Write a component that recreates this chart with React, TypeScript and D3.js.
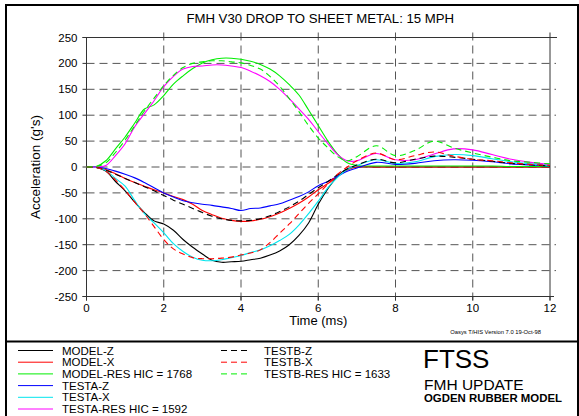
import React from 'react';
import * as d3 from 'd3';

// time base (ms) shared by all series
const times = [0, 0.25, 0.5, 0.75, 1, 1.25, 1.5, 1.75, 2, 2.25, 2.5, 2.75, 3, 3.25, 3.5, 3.75, 4, 4.25, 4.5, 4.75, 5, 5.25, 5.5, 5.75, 6, 6.25, 6.5, 6.75, 7, 7.5, 8, 8.5, 9, 9.5, 10, 10.5, 11, 11.5, 12];

const modelZ = [0, -1, -8, -28, -46, -68, -88, -104, -110, -122, -140, -155, -168, -180, -184, -183, -182, -179, -176, -170, -162, -150, -132, -108, -72, -42, -18, -4, 0, 0, 0, 0, 0, 0, 0, 0, 0, 0, 0];
const modelX = [0, -1, -5, -13, -22, -30, -37, -44, -50, -57, -63, -72, -84, -92, -99, -103, -105, -104, -101, -96, -89, -80, -70, -58, -44, -32, -18, -6, 0, 0, 0, 0, 0, 0, 0, 0, 0, 0, 0];
const modelRes = [0, 1, 12, 35, 58, 85, 112, 120, 138, 160, 176, 190, 201, 207, 210, 210, 208, 204, 198, 189, 176, 159, 139, 110, 80, 50, 25, 8, 3, 2, 2, 2, 2, 2, 2, 2, 1, 1, 1];
const testAZ = [0, 0, -3, -8, -14, -21, -30, -40, -50, -58, -65, -69, -72, -74, -77, -80, -84, -80, -79, -75, -71, -64, -57, -48, -36, -28, -18, -8, -2, 9, 5, 7, 12, 14, 13, 10, 6, 4, 2];
const testAX = [0, -1, -7, -22, -37, -65, -90, -108, -127, -148, -163, -174, -180, -181, -179, -175, -171, -165, -160, -152, -142, -130, -112, -90, -66, -40, -20, -5, 3, 14, 7, 10, 20, 24, 22, 16, 10, 6, 3];
const testARes = [0, 0, 3, 22, 45, 78, 103, 128, 155, 175, 189, 194, 195, 197, 197, 195, 192, 185, 176, 165, 150, 132, 112, 92, 68, 45, 24, 12, 12, 26, 14, 14, 25, 35, 33, 24, 15, 9, 5];
const testBZ = [0, -1, -6, -14, -22, -30, -38, -46, -55, -64, -72, -80, -88, -95, -100, -103, -104, -103, -100, -94, -86, -77, -66, -53, -40, -28, -15, -4, 4, 15, 8, 15, 21, 19, 15, 11, 7, 4, 2];
const testBX = [0, -1, -8, -25, -45, -68, -90, -115, -140, -158, -168, -175, -177, -177, -176, -174, -170, -166, -160, -146, -128, -110, -90, -70, -52, -33, -14, 0, 12, 27, 14, 22, 29, 21, 15, 12, 8, 5, 3];
const testBRes = [0, 1, 8, 28, 52, 80, 108, 133, 157, 177, 192, 200, 203, 205, 205, 203, 201, 196, 189, 175, 156, 132, 107, 80, 56, 37, 20, 12, 20, 41, 22, 32, 50, 37, 27, 19, 12, 9, 6];

const xTicks = [0, 2, 4, 6, 8, 10, 12];
const yTicks = [-250, -200, -150, -100, -50, 0, 50, 100, 150, 200, 250];

const series = [
  { name: 'MODEL-Z', values: modelZ, color: '#000000', dashed: false },
  { name: 'MODEL-X', values: modelX, color: '#ff0000', dashed: false },
  { name: 'MODEL-RES HIC = 1768', values: modelRes, color: '#00ee00', dashed: false },
  { name: 'TESTA-Z', values: testAZ, color: '#0000ff', dashed: false },
  { name: 'TESTA-X', values: testAX, color: '#00e5ee', dashed: false },
  { name: 'TESTA-RES HIC = 1592', values: testARes, color: '#ff00ff', dashed: false },
  { name: 'TESTB-Z', values: testBZ, color: '#000000', dashed: true },
  { name: 'TESTB-X', values: testBX, color: '#ff0000', dashed: true },
  { name: 'TESTB-RES HIC = 1633', values: testBRes, color: '#00ee00', dashed: true },
];

const font = '"Liberation Sans", Arial, Helvetica, sans-serif';

export default function App() {
  const width = 579;
  const height = 416;
  const left = 86.5, right = 550, top = 37.5, bottom = 296.5;

  const x = d3.scaleLinear().domain([0, 12]).range([left, right]);
  const y = d3.scaleLinear().domain([-250, 250]).range([bottom, top]);

  const line = d3.line<number>()
    .x((_, i) => x(times[i]))
    .y(d => y(d))
    .curve(d3.curveCatmullRom.alpha(0.5));

  const gridColor = '#555';

  return (
    <svg width={width} height={height} style={{ position: 'absolute', left: 0, top: 0, background: '#fff' }} fontFamily={font}>
      <rect x={0} y={0} width={width} height={height} fill="#fff" />
      {/* outer frame */}
      <line x1={6} y1={5} x2={578} y2={5} stroke="#000" strokeWidth={2} />
      <line x1={6} y1={4} x2={6} y2={416} stroke="#000" strokeWidth={2} />
      <line x1={578} y1={4} x2={578} y2={416} stroke="#000" strokeWidth={2} />
      <line x1={6} y1={341.5} x2={578} y2={341.5} stroke="#000" strokeWidth={2} />

      <text x={(left + right) / 2 + 2} y={23} textAnchor="middle" fontSize={13.2}>FMH V30 DROP TO SHEET METAL: 15 MPH</text>

      {/* grid */}
      {yTicks.filter(v => v > -250 && v < 250).map(v => (
        <line key={'gy' + v} x1={left} x2={right + 6} y1={y(v)} y2={y(v)} stroke={gridColor} strokeDasharray="8,5" strokeWidth={1} />
      ))}
      {xTicks.filter(v => v > 0 && v < 12).map(v => (
        <line key={'gx' + v} x1={x(v)} x2={x(v)} y1={top - 5} y2={bottom + 4} stroke={gridColor} strokeDasharray="8,5" strokeWidth={1} />
      ))}

      {/* axes frame */}
      <line x1={left - 4} x2={right + 7} y1={top} y2={top} stroke="#333" strokeWidth={1} />
      <line x1={left - 4} x2={right + 4} y1={bottom} y2={bottom} stroke="#333" strokeWidth={1} />
      <line x1={left} x2={left} y1={top} y2={bottom + 4} stroke="#333" strokeWidth={1} />
      <line x1={right} x2={right} y1={top - 5} y2={bottom + 4} stroke="#333" strokeWidth={1} />
      {yTicks.map(v => (
        <g key={'ty' + v}>
          <line x1={left - 4} x2={left} y1={y(v)} y2={y(v)} stroke="#333" />
          <text x={left - 9} y={y(v) + 4} textAnchor="end" fontSize={11.5}>{v}</text>
        </g>
      ))}
      {xTicks.map(v => (
        <g key={'tx' + v}>
          <line x1={x(v)} x2={x(v)} y1={bottom} y2={bottom + 4} stroke="#333" />
          <text x={x(v)} y={bottom + 15} textAnchor="middle" fontSize={11.5}>{v}</text>
        </g>
      ))}
      <text x={(left + right) / 2} y={325} textAnchor="middle" fontSize={13}>Time (ms)</text>
      <text transform={`translate(40,${(top + bottom) / 2}) rotate(-90)`} textAnchor="middle" fontSize={13.5}>Acceleration (g's)</text>

      {/* curves */}
      {series.map(s => (
        <path key={s.name} d={line(s.values) || ''} fill="none" stroke={s.color} strokeWidth={1.1}
          strokeDasharray={s.dashed ? '6,4' : undefined} />
      ))}

      <text x={541} y={334} textAnchor="end" fontSize={5.8}>Oasys T/HIS   Version 7.0   19-Oct-98</text>

      {/* legend */}
      {series.map((s, i) => {
        const col = i < 6 ? 0 : 1;
        const row = i < 6 ? i : i - 6;
        const lx = col === 0 ? 18 : 221;
        const ly = 350.5 + row * 11.7;
        return (
          <g key={'lg' + s.name}>
            <line x1={lx} x2={lx + (col === 0 ? 35 : 28)} y1={ly} y2={ly} stroke={s.color} strokeWidth={1}
              strokeDasharray={s.dashed ? '6,4' : undefined} />
            <text x={col === 0 ? 62 : 264} y={ly + 4} fontSize={11.5}>{s.name}</text>
          </g>
        );
      })}

      <text x={423} y={368} fontSize={26}>FTSS</text>
      <text x={424} y={390} fontSize={15.5}>FMH UPDATE</text>
      <text x={424} y={402} fontSize={10} fontWeight="bold" textLength={138} lengthAdjust="spacingAndGlyphs">OGDEN RUBBER MODEL</text>
    </svg>
  );
}
